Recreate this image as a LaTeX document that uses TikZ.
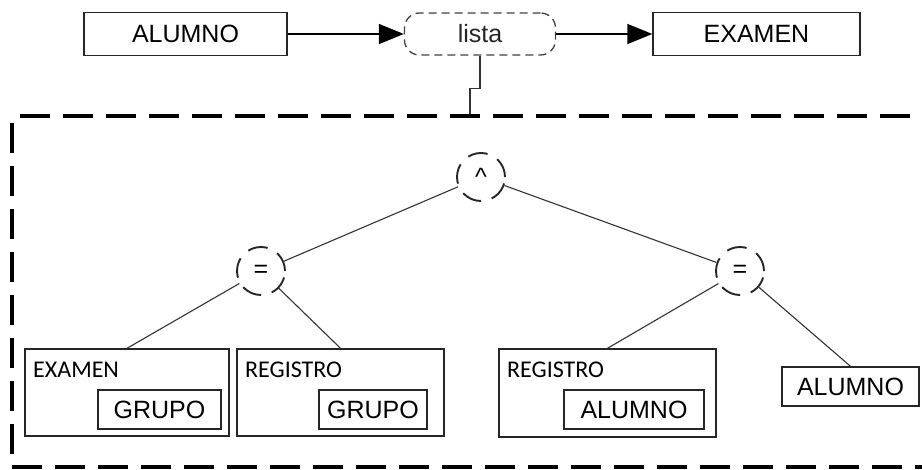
\documentclass[tikz,border=0pt]{standalone}
\usepackage{fontspec}
\setmainfont{Liberation Sans}
\newfontfamily\labelfont{Carlito}
\usetikzlibrary{arrows.meta}

\begin{document}
\begin{tikzpicture}[x=1pt, y=-1pt,
    entity/.style = {draw=black!85, line width=1.4pt, rectangle, inner sep=0pt, font=\fontsize{25}{26}\selectfont},
    listnode/.style = {draw=black!75, line width=1.3pt, dash pattern=on 8pt off 5pt, rounded corners=15pt, minimum width=151pt, minimum height=42pt, text=black!85, font=\fontsize{25}{26}\selectfont},
    opnode/.style = {draw=black!85, line width=1.9pt, dash pattern=on 20pt off 11pt, circle, minimum size=48pt, inner sep=0pt, font=\fontsize{25}{26}\selectfont},
    tag/.style = {anchor=base west, inner sep=0pt, font=\labelfont\fontsize{24}{26}\selectfont},
    frame/.style = {line width=4pt, dash pattern=on 30pt off 13pt},
    edge/.style = {line width=1.1pt, black!80},
    flow/.style = {line width=1.4pt, -{Triangle[length=25pt,width=20pt]}}]
    \useasboundingbox (0,0) rectangle (922,470);

    % top row
    \node[entity, minimum width=203pt, minimum height=43pt] (alumno) at (185.5,34) {ALUMNO};
    \node[listnode] (lista) at (480,34) {lista};
    \node[entity, minimum width=207pt, minimum height=43pt] (examen) at (756.5,34) {EXAMEN};
    \draw[flow] (alumno) -- (lista);
    \draw[flow] (lista) -- (examen);

    % condition frame
    \coordinate (drop) at (470,116);
    \draw[edge] (lista.south) -- ++(0,33) -| (drop);
    \begin{scope}
        \clip (0,0) rectangle (922,470);
        \draw[frame] (20,116) -- (940,116);
        \draw[frame] (12,123) -- (12,462);
        \draw[frame] (12,467) -- (940,467);
    \end{scope}

    % operators
    \node[opnode] (and) at (481,177) {\textasciicircum};
    \node[opnode] (eqa) at (261,271) {=};
    \node[opnode] (eqb) at (740,271) {=};

    % operands
    \node[entity, minimum width=204pt, minimum height=87pt] (ex) at (127,392.5) {};
    \node[entity, minimum width=123pt, minimum height=39pt] (grupoa) at (159.5,409.5) {GRUPO};
    \node[tag] (exlbl) at (33,378) {EXAMEN};
    \node[entity, minimum width=207pt, minimum height=87pt] (rega) at (340.5,392.5) {};
    \node[entity, minimum width=108pt, minimum height=39pt] (grupob) at (373,409.5) {GRUPO};
    \node[tag] (regalbl) at (245,378) {REGISTRO};
    \node[entity, minimum width=217pt, minimum height=88pt] (regb) at (607.5,393) {};
    \node[entity, minimum width=140pt, minimum height=39pt] (alumnoa) at (634,409.5) {ALUMNO};
    \node[tag] (regblbl) at (507,378) {REGISTRO};
    \node[entity, minimum width=137pt, minimum height=39pt] (alumnob) at (850.5,386.5) {ALUMNO};

    \draw[edge] (and) -- (eqa);
    \draw[edge] (and) -- (eqb);
    \draw[edge] (eqa) -- (ex.north);
    \draw[edge] (eqa) -- (rega.north);
    \draw[edge] (eqb) -- (regb.north);
    \draw[edge] (eqb) -- (alumnob.north);
\end{tikzpicture}
\end{document}
